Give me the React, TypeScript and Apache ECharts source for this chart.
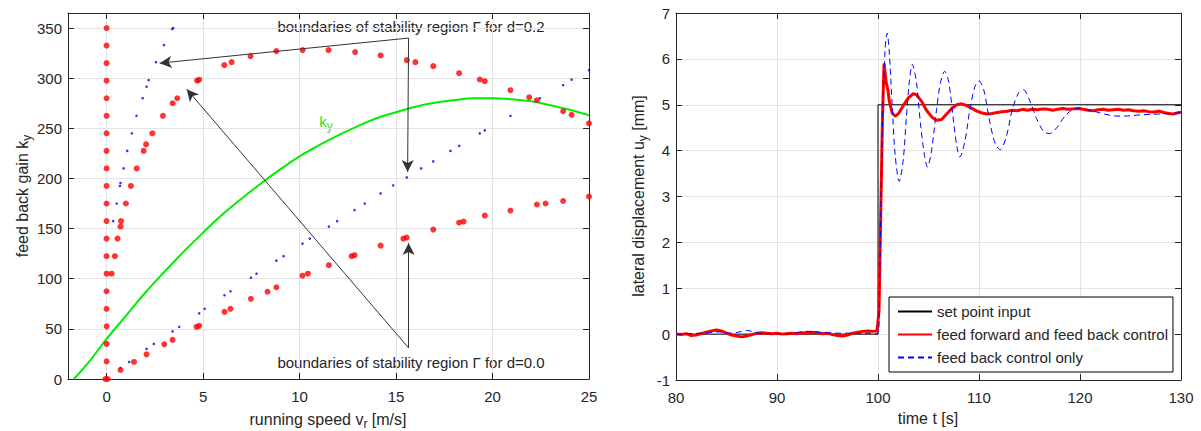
import React, { useEffect, useRef } from "react";
import * as echarts from "echarts";

const FONT = "'Liberation Sans', Arial, Helvetica, sans-serif";
const TXT = "#262626";
const GRIDC = "#e3e3e3";

// ---------- Left chart: stability regions ----------
const leftXTicks = [0, 5, 10, 15, 20, 25];
const leftYTicks = [0, 50, 100, 150, 200, 250, 300, 350];

const redColumn: number[][] = [
  [-0.06, 0], [0.06, 0], [0, 17.5], [0, 35], [0, 52.5], [0, 70], [0, 87.5], [0, 105],
  [0, 122.5], [0, 140], [0, 157.5], [0, 175], [0, 192.5], [0, 210], [0, 227.5],
  [0, 245], [0, 262.5], [0, 280], [0, 297.5], [0, 315], [0, 332.5], [0, 350],
];
const redUpper: number[][] = [
  [0.26, 105], [0.43, 122.5], [0.57, 140], [0.72, 152], [0.75, 157.5], [1.0, 175],
  [1.26, 192.5], [1.56, 210], [1.92, 227.5], [2.05, 234], [2.37, 245], [2.92, 262.5],
  [3.42, 275], [3.66, 280], [4.69, 297.5], [4.8, 298.5], [6.1, 313], [6.48, 316],
  [7.46, 322], [8.8, 327], [10.16, 328], [11.5, 328], [12.88, 326], [14.2, 322.7],
  [15.56, 318], [16.0, 316], [16.93, 312], [18.27, 305], [19.34, 298.7], [19.6, 297],
  [20.93, 288], [21.9, 281], [22.3, 278], [23.66, 267], [24.1, 263.5], [25.0, 255],
];
const redLower: number[][] = [
  [0.72, 9], [1.42, 17], [2.07, 24.6], [2.99, 34.6], [3.42, 39], [4.66, 52], [4.8, 53],
  [6.11, 67], [6.42, 70], [7.48, 80], [8.34, 87], [8.8, 91.5], [10.15, 103], [10.43, 105],
  [11.52, 113.5], [12.7, 122.5], [12.85, 123.5], [14.2, 133], [15.38, 140], [15.55, 141],
  [16.93, 149], [18.27, 156], [18.5, 157], [19.6, 163], [20.93, 168], [22.3, 174],
  [22.75, 175], [23.66, 177.5], [25, 182],
];
const blueUpper: number[][] = [
  [0.34, 157.5], [0.52, 175], [0.69, 192.5], [0.72, 195.5], [0.88, 210], [1.07, 227.5],
  [1.31, 245], [1.55, 262.5], [1.87, 280], [2.07, 291.5], [2.18, 298], [2.56, 316],
  [2.97, 333], [3.4, 349], [3.45, 350],
];
const blueLower: number[][] = [
  [0.72, 11], [1.17, 17], [2.07, 30], [2.45, 35], [3.42, 47.5], [3.76, 52], [4.8, 65.5],
  [5.08, 70], [6.11, 83.5], [6.42, 87.5], [7.48, 101], [7.77, 105], [8.8, 118],
  [9.17, 122.5], [10.15, 135], [10.53, 140], [11.52, 152], [11.95, 157.5], [12.85, 168.5],
  [13.38, 175], [14.2, 185], [14.85, 193], [15.56, 201], [16.3, 210], [16.93, 217],
  [17.82, 227.5], [18.27, 232.5], [19.34, 245], [19.6, 248], [20.93, 262.5], [22.45, 280],
  [23.66, 293], [24.1, 298.5], [25, 308],
];
const kyCurve: number[][] = [
  [-1.7, 0], [-1, 15], [0, 40], [1, 63], [2, 86], [3, 107], [4, 127], [5, 146], [6, 164],
  [7, 180], [8, 195], [9, 209], [10, 222], [11, 233], [12, 243], [13, 252], [14, 260],
  [15, 266], [16, 271.5], [17, 275.5], [18, 278], [19, 280], [20, 280], [21, 279],
  [22, 277], [23, 273], [24, 268.5], [25, 263],
];
// annotation arrows: [start, tip] in data coordinates
const arrowsD02 = [
  [[15.65, 340], [2.75, 315]],
  [[15.65, 340], [15.6, 206.5]],
];
const arrowsD00 = [
  [[15.65, 31], [15.65, 135.6]],
  [[15.65, 31], [4.15, 289]],
];

// ---------- Right chart: step response ----------
const setPoint: number[][] = [[80, 0], [100, 0], [100, 5], [130, 5]];
const ffFb: number[][] = [
  [80, 0], [80.5, -0.01], [81, 0.01], [81.5, -0.03], [82, -0.02], [82.5, 0.01], [83, 0.04],
  [83.5, 0.07], [84, 0.09], [84.5, 0.07], [85, 0.02], [85.5, -0.02], [86, -0.04],
  [86.5, -0.06], [87, -0.04], [87.5, -0.01], [88, 0.02], [88.5, 0.03], [89, 0.02],
  [89.5, 0.01], [90, 0.02], [90.5, 0], [91, 0.01], [91.5, 0.02], [92, 0.01], [92.5, 0.03],
  [93, 0.02], [93.5, 0.04], [94, 0.03], [94.5, 0.01], [95, 0.02], [95.5, -0.01],
  [96, -0.03], [96.5, -0.04], [97, -0.02], [97.5, 0.02], [98, 0.04], [98.5, 0.06],
  [99, 0.07], [99.5, 0.06], [99.9, 0.07], [100.1, 0.5], [100.3, 3.0], [100.45, 4.8],
  [100.6, 5.9], [100.7, 5.7], [100.8, 5.5], [100.9, 5.4], [101.0, 5.3], [101.1, 5.1],
  [101.2, 5.0], [101.4, 4.82], [101.7, 4.75], [102.0, 4.8], [102.5, 4.98], [103.0, 5.15],
  [103.5, 5.24], [103.8, 5.22], [104.3, 5.08], [104.8, 4.88], [105.3, 4.74], [105.8, 4.66],
  [106.3, 4.68], [106.8, 4.8], [107.3, 4.92], [107.8, 5.0], [108.3, 5.02], [108.8, 4.98],
  [109.3, 4.92], [109.8, 4.86], [110.3, 4.82], [110.8, 4.8], [111.3, 4.81], [111.8, 4.83],
  [112.3, 4.85], [112.8, 4.86], [113.3, 4.88], [113.8, 4.87], [114.3, 4.9], [114.8, 4.88],
  [115.3, 4.9], [115.8, 4.89], [116.3, 4.91], [116.8, 4.9], [117.3, 4.88], [117.8, 4.9],
  [118.3, 4.92], [118.8, 4.9], [119.3, 4.91], [119.8, 4.92], [120.3, 4.9], [120.8, 4.88],
  [121.3, 4.87], [121.8, 4.89], [122.3, 4.9], [122.8, 4.88], [123.3, 4.89], [123.8, 4.9],
  [124.3, 4.88], [124.8, 4.89], [125.3, 4.87], [125.8, 4.86], [126.3, 4.87], [126.8, 4.85],
  [127.3, 4.84], [127.8, 4.86], [128.3, 4.83], [128.8, 4.81], [129.3, 4.8], [129.8, 4.83],
  [130, 4.84],
];
const fbOnly: number[][] = [
  [80, 0], [81, 0.01], [82.3, 0.02], [83.3, 0.03], [84.3, 0.05], [85.6, 0.02], [86.3, 0.05],
  [87, 0.08], [87.7, 0.05], [88.3, 0.02], [89.5, 0.01], [90.8, 0.01], [91.8, 0.03],
  [92.8, 0.06], [93.5, 0.06], [94.2, 0.04], [95.2, 0.03], [96.1, 0.02], [97.2, 0.02],
  [98.2, 0.01], [99.2, 0.02], [100, 0], [100.15, 1.0], [100.3, 3.0], [100.5, 5.0],
  [100.7, 6.2], [100.9, 6.56], [101.1, 6.2], [101.4, 5.0], [101.7, 3.9], [102.1, 3.33],
  [102.5, 3.8], [102.8, 4.7], [103.1, 5.5], [103.4, 5.88], [103.8, 5.5], [104.2, 4.6],
  [104.6, 3.9], [104.9, 3.64], [105.3, 4.0], [105.8, 4.9], [106.2, 5.5], [106.6, 5.73],
  [107.0, 5.5], [107.5, 4.6], [107.8, 4.1], [108.1, 3.86], [108.6, 4.2], [109.1, 4.9],
  [109.6, 5.4], [110.0, 5.52], [110.5, 5.3], [111.0, 4.7], [111.6, 4.15], [112.1, 4.02],
  [112.7, 4.3], [113.3, 4.9], [113.9, 5.25], [114.4, 5.33], [115.0, 5.1], [115.7, 4.7],
  [116.4, 4.42], [117.0, 4.37], [117.7, 4.5], [118.5, 4.75], [119.3, 4.9], [120.0, 4.93],
  [121.0, 4.88], [122.0, 4.82], [123.0, 4.77], [124.0, 4.75], [125.0, 4.76], [126.0, 4.78],
  [127.0, 4.79], [128.0, 4.8], [129.0, 4.81], [130.0, 4.83],
];
const legendNames = ["set point input", "feed forward and feed back control", "feed back control only"];

const axisLine = { show: true, onZero: false, lineStyle: { color: TXT, width: 1 } };
const tick = (custom?: number[]) => ({
  show: true,
  inside: true,
  length: 6,
  lineStyle: { color: TXT },
  ...(custom ? { customValues: custom } : {}),
});
const label = (margin: number, custom?: number[]) => ({
  show: true,
  margin,
  fontSize: 15,
  color: TXT,
  fontFamily: FONT,
  ...(custom ? { customValues: custom } : {}),
});
const split = { show: true, lineStyle: { color: GRIDC, width: 1 } };
const sub = { fontSize: 12, padding: [9, 0, 0, 0], fontFamily: FONT, fill: TXT };
const main = { fontSize: 16, fontFamily: FONT, fill: TXT };
const GREEN_TXT = "#2ddc2d";

function buildOption() {
  const arrowData = [...arrowsD02, ...arrowsD00].map((a) => [
    { coord: a[0] },
    { coord: a[1] },
  ]);
  return {
    animation: false,
    textStyle: { fontFamily: FONT },
    grid: [
      { left: 68, right: 612, top: 13, bottom: 52 },
      { left: 676, right: 20, top: 13, bottom: 51 },
    ],
    xAxis: [
      {
        gridIndex: 0, type: "value", min: -2, max: 25, position: "bottom",
        axisLine, axisTick: tick(leftXTicks), axisLabel: label(10, leftXTicks), splitLine: split,
      },
      {
        gridIndex: 0, type: "value", min: -2, max: 25, position: "top",
        axisLine, axisTick: tick(leftXTicks), axisLabel: { show: false }, splitLine: { show: false },
      },
      {
        gridIndex: 1, type: "value", min: 80, max: 130, interval: 10, position: "bottom",
        axisLine, axisTick: tick(), axisLabel: label(10), splitLine: split,
      },
      {
        gridIndex: 1, type: "value", min: 80, max: 130, interval: 10, position: "top",
        axisLine, axisTick: tick(), axisLabel: { show: false }, splitLine: { show: false },
      },
    ],
    yAxis: [
      {
        gridIndex: 0, type: "value", min: 0, max: 365, position: "left",
        axisLine, axisTick: tick(leftYTicks), axisLabel: label(6, leftYTicks), splitLine: split,
      },
      {
        gridIndex: 0, type: "value", min: 0, max: 365, position: "right",
        axisLine, axisTick: tick(leftYTicks), axisLabel: { show: false }, splitLine: { show: false },
      },
      {
        gridIndex: 1, type: "value", min: -1, max: 7, interval: 1, position: "left",
        axisLine, axisTick: tick(), axisLabel: label(6), splitLine: split,
      },
      {
        gridIndex: 1, type: "value", min: -1, max: 7, interval: 1, position: "right",
        axisLine, axisTick: tick(), axisLabel: { show: false }, splitLine: { show: false },
      },
    ],
    legend: {
      data: legendNames,
      orient: "vertical",
      left: 889,
      top: 297,
      padding: [7, 5, 7, 8],
      itemWidth: 34,
      itemHeight: 14,
      itemGap: 8,
      backgroundColor: "#fff",
      borderColor: "#000",
      borderWidth: 1,
      borderRadius: 0,
      itemStyle: { color: "transparent", borderWidth: 0, opacity: 0 },
      textStyle: { fontSize: 15, color: TXT, fontFamily: FONT },
    },
    series: [
      {
        name: "ky", type: "line", xAxisIndex: 0, yAxisIndex: 0, data: kyCurve, smooth: true,
        symbol: "none", lineStyle: { color: "#00ee00", width: 2 }, z: 2,
        markLine: {
          silent: true, symbol: ["none", "arrow"], symbolSize: [9, 12], animation: false,
          label: { show: false },
          lineStyle: { color: "#333", width: 1, type: "solid" },
          data: arrowData,
        },
      },
      {
        name: "d0.2", type: "scatter", xAxisIndex: 0, yAxisIndex: 0,
        data: [...blueUpper, ...blueLower], symbol: "circle", symbolSize: 2.6,
        itemStyle: { color: "#0000ff" }, z: 3,
      },
      {
        name: "d0.0", type: "scatter", xAxisIndex: 0, yAxisIndex: 0,
        data: [...redColumn, ...redUpper, ...redLower], symbol: "circle", symbolSize: 6,
        itemStyle: { color: "#ff0000" }, z: 3,
      },
      {
        name: legendNames[0], type: "line", xAxisIndex: 2, yAxisIndex: 2, data: setPoint,
        symbol: "none", lineStyle: { color: "#000", width: 1 }, itemStyle: { color: "#000" },
      },
      {
        name: legendNames[1], type: "line", xAxisIndex: 2, yAxisIndex: 2, data: ffFb,
        symbol: "none", lineStyle: { color: "#ff0000", width: 3 }, itemStyle: { color: "#ff0000" },
      },
      {
        name: legendNames[2], type: "line", xAxisIndex: 2, yAxisIndex: 2, data: fbOnly,
        symbol: "none", smooth: 0.3,
        lineStyle: { color: "#0000ff", width: 1, type: [6, 4] }, itemStyle: { color: "#0000ff" },
      },
    ],
    graphic: [
      {
        type: "text", x: 411, y: 26,
        style: { text: "boundaries of stability region Γ for d=0.2", fontSize: 15, fontFamily: FONT, fill: TXT, align: "center", verticalAlign: "middle" },
      },
      {
        type: "text", x: 411, y: 362,
        style: { text: "boundaries of stability region Γ for d=0.0", fontSize: 15, fontFamily: FONT, fill: TXT, align: "center", verticalAlign: "middle" },
      },
      {
        type: "text", x: 326, y: 121,
        style: {
          text: "{a|k}{b|y}", align: "center", verticalAlign: "middle", fill: GREEN_TXT,
          rich: { a: { ...main, fontSize: 15, fill: GREEN_TXT }, b: { ...sub, fontSize: 12, fill: GREEN_TXT } },
        },
      },
      {
        type: "text", x: 22, y: 196, rotation: Math.PI / 2,
        style: {
          text: "{a|feed back gain k}{b|y}", align: "center", verticalAlign: "middle", fill: TXT,
          rich: { a: main, b: sub },
        },
      },
      {
        type: "text", x: 328, y: 419,
        style: {
          text: "{a|running speed v}{b|r}{a| [m/s]}", align: "center", verticalAlign: "middle", fill: TXT,
          rich: { a: main, b: sub },
        },
      },
      {
        type: "text", x: 638, y: 196, rotation: Math.PI / 2,
        style: {
          text: "{a|lateral displacement u}{b|y}{a| [mm]}", align: "center", verticalAlign: "middle", fill: TXT,
          rich: { a: main, b: sub },
        },
      },
      {
        type: "text", x: 928, y: 418,
        style: { text: "time t [s]", fontSize: 16, fontFamily: FONT, fill: TXT, align: "center", verticalAlign: "middle" },
      },
    ],
  };
}

export default function App() {
  const ref = useRef<HTMLDivElement>(null);
  useEffect(() => {
    document.body.style.margin = "0";
    const chart = echarts.init(ref.current!, null, { renderer: "svg" });
    chart.setOption(buildOption() as any);
    return () => chart.dispose();
  }, []);
  return <div ref={ref} style={{ width: 1201, height: 431 }} />;
}
